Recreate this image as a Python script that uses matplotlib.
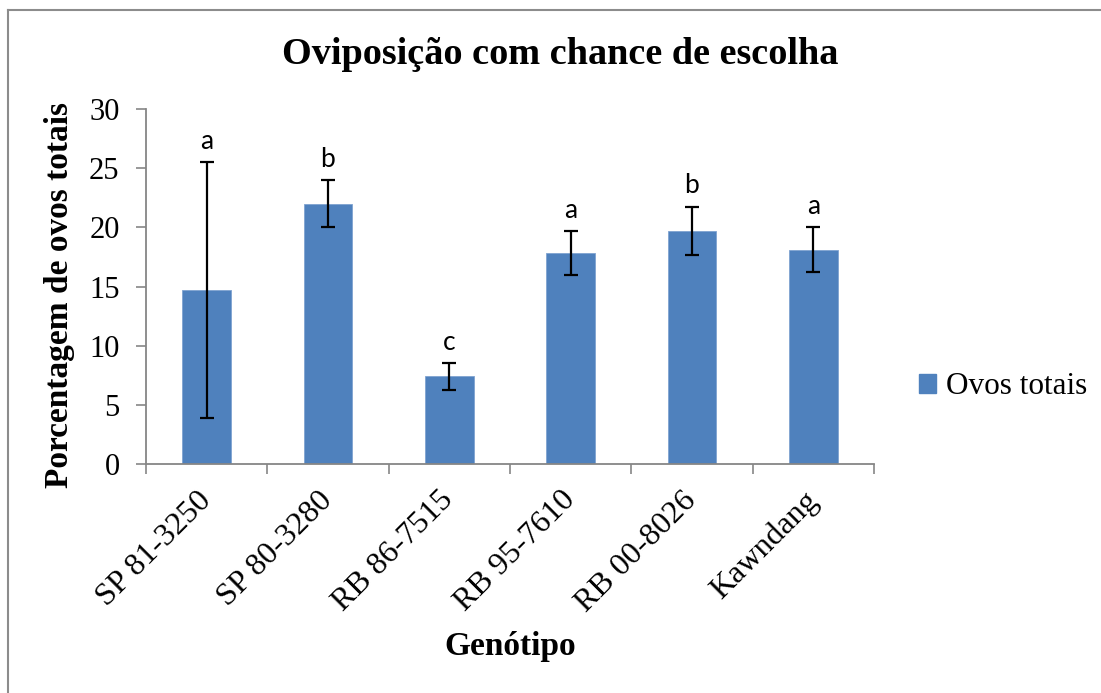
import matplotlib
matplotlib.use("Agg")
import matplotlib.pyplot as plt
import numpy as np
from matplotlib.patches import Rectangle
from matplotlib.lines import Line2D

# Percentage of total eggs per sugarcane genotype (free-choice oviposition)
genotypes = ["SP 81-3250", "SP 80-3280", "RB 86-7515", "RB 95-7610", "RB 00-8026", "Kawndang"]
ovos_totais = [14.7, 22.0, 7.4, 17.8, 19.7, 18.1]
erro = [10.8, 2.0, 1.15, 1.85, 2.05, 1.9]
letras = ["a", "b", "c", "a", "b", "a"]

serif = "Liberation Serif"
bar_color = "#4F81BD"
axis_grey = "#868686"

fig = plt.figure(figsize=(11.01, 6.93), dpi=100)
ax = fig.add_axes([0.1326, 0.3304, 0.6612, 0.5123])

x = np.arange(len(genotypes))
ax.bar(x, ovos_totais, width=0.4, color=bar_color, edgecolor="#7FA3D1",
       linewidth=0.6, label="Ovos totais", zorder=2)
ax.errorbar(x, ovos_totais, yerr=erro, fmt="none", ecolor="black",
            elinewidth=1.6, capsize=4.7, capthick=1.6, zorder=3)

for xi, m, e, l in zip(x, ovos_totais, erro, letras):
    ax.annotate(l, xy=(xi, m + e), xytext=(0, 6), textcoords="offset points",
                ha="center", va="bottom", fontsize=19, family="Lato")

ax.set_xlim(-0.5, len(genotypes) - 0.5)
ax.set_ylim(0, 30)
ax.set_yticks(np.arange(0, 31, 5))
ax.set_yticklabels([str(v) for v in range(0, 31, 5)], family=serif, fontsize=22)
ax.tick_params(axis="y", direction="out", length=7, width=1.2, color=axis_grey, pad=12)

# category boundary ticks on x, labels centred on the bars
ax.set_xticks(np.arange(-0.5, len(genotypes)), minor=False)
ax.set_xticklabels([])
ax.set_xticks(x, minor=True)
ax.set_xticklabels(genotypes, minor=True, rotation=45, ha="right", va="center",
                   rotation_mode="anchor", family=serif, fontsize=23)
ax.tick_params(axis="x", which="major", direction="out", length=7, width=1.2, color=axis_grey)
ax.tick_params(axis="x", which="minor", length=0, pad=23)

for side in ("top", "right"):
    ax.spines[side].set_visible(False)
for side in ("left", "bottom"):
    ax.spines[side].set_color(axis_grey)
    ax.spines[side].set_linewidth(1.3)

ax.set_ylabel("Porcentagem de ovos totais", family=serif, fontsize=24,
              fontweight="bold")
ax.yaxis.set_label_coords(-0.097, 0.476)
ax.set_xlabel("Genótipo", family=serif, fontsize=24, fontweight="bold", labelpad=10)

fig.text(0.509, 0.922, "Oviposição com chance de escolha", family=serif,
         fontsize=27.5, fontweight="bold", ha="center", va="center")

handle = Rectangle((0, 0), 1, 1, color=bar_color)
fig.legend([handle], ["Ovos totais"], loc="center left",
           bbox_to_anchor=(0.8235, 0.442), frameon=False,
           prop={"family": serif, "size": 22.5}, handlelength=0.55,
           handleheight=0.55, handletextpad=0.3, borderaxespad=0)

# chart frame
fig.add_artist(Line2D([8 / 1101, 8 / 1101], [0, 1 - 10 / 693], color="#8C8C8C",
                      linewidth=1.5, transform=fig.transFigure))
fig.add_artist(Line2D([8 / 1101, 1], [1 - 10 / 693, 1 - 10 / 693], color="#8C8C8C",
                      linewidth=1.5, transform=fig.transFigure))

fig.savefig("out.png", dpi=100, facecolor="white")
